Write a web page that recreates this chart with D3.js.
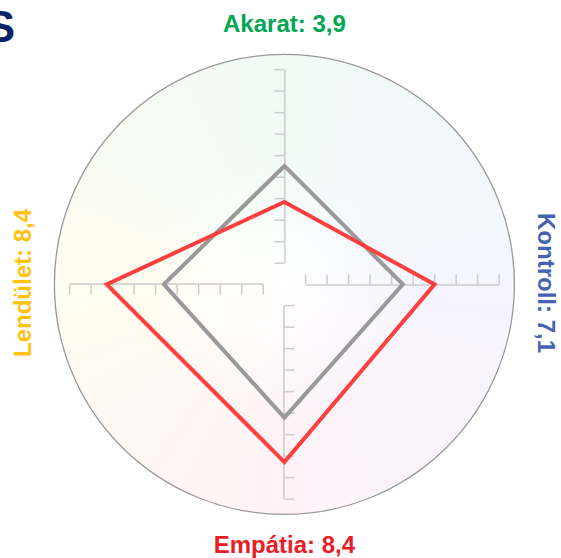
<!DOCTYPE html>
<html>
<head>
<meta charset="utf-8">
<script src="https://cdn.jsdelivr.net/npm/d3@7"></script>
<style>
  body { margin: 0; background: #fff; }
  svg { display: block; font-family: "Liberation Sans", Arial, sans-serif; }
</style>
</head>
<body>
<div id="chart"></div>
<script>
// dimensions, clockwise from top
const dims = ["Akarat", "Kontroll", "Empátia", "Lendület"];
const dimColors = ["#00a651", "#4563b0", "#ed1c24", "#ffc20e"];
const labelValues = ["3,9", "7,1", "8,4", "8,4"];
const redValues = [3.9, 7.1, 8.4, 8.4];
const grayValues = [5.6, 5.6, 6.3, 5.7];
const tickValues = [1, 2, 3, 4, 5, 6, 7, 8, 9, 10];

const width = 561, height = 558;
const cx = 284.4, cy = 284.4, outerR = 230;

const svg = d3.select("#chart").append("svg")
  .attr("width", width)
  .attr("height", height);

const defs = svg.append("defs");

// fade the tint towards the middle
const rg = defs.append("radialGradient").attr("id", "fade");
rg.append("stop").attr("offset", "0%").attr("stop-color", "#000");
rg.append("stop").attr("offset", "12%").attr("stop-color", "#444");
rg.append("stop").attr("offset", "60%").attr("stop-color", "#fff");
defs.append("mask").attr("id", "fadeMask")
  .append("circle").attr("cx", 0).attr("cy", 0).attr("r", outerR)
  .attr("fill", "url(#fade)");

const g = svg.append("g").attr("transform", `translate(${cx},${cy})`);

// conic tint made of thin opaque wedges (pre-mixed with white)
const tintStops = ["#00c060", "#5050ff", "#ff3080", "#ffd000"];
const colorAt = d3.scaleLinear()
  .domain([0, 90, 180, 270, 360])
  .range([tintStops[0], tintStops[1], tintStops[2], tintStops[3], tintStops[0]])
  .interpolate(d3.interpolateRgb);
const tint = a => d3.interpolateRgb("#ffffff", colorAt(a))(0.06);
const wedge = d3.arc().innerRadius(0).outerRadius(outerR);
const steps = d3.range(0, 360, 2);
g.append("g").attr("mask", "url(#fadeMask)")
  .selectAll("path").data(steps).enter().append("path")
  .attr("d", a => wedge({startAngle: (a - 1.6) * Math.PI / 180, endAngle: (a + 1.6) * Math.PI / 180}))
  .attr("fill", a => tint(a));

g.append("circle")
  .attr("r", outerR)
  .attr("fill", "none")
  .attr("stroke", "#999")
  .attr("stroke-width", 1.3);

// axes: one axis pointing up, rotated for each dimension
const axisScale = d3.scaleLinear().domain([1, 10]).range([-21.7, -215.3]);
const axis = d3.axisLeft(axisScale)
  .tickValues(tickValues)
  .tickSize(10)
  .tickSizeOuter(0)
  .tickFormat("");

dims.forEach((d, i) => {
  const ag = g.append("g")
    .attr("transform", `rotate(${i * 90})`)
    .call(axis);
  ag.selectAll("path, line").attr("stroke", "#cccccc").attr("stroke-width", 1.5);
});

// data polygons
const r = d3.scaleLinear().domain([0, 10]).range([0, 211.5]);
const radar = d3.lineRadial()
  .angle((d, i) => i * Math.PI / 2)
  .radius(d => r(d))
  .curve(d3.curveLinearClosed);

g.append("path")
  .attr("d", radar(grayValues))
  .attr("fill", "none")
  .attr("stroke", "#999999")
  .attr("stroke-width", 4)
  .attr("stroke-linejoin", "miter");

g.append("path")
  .attr("d", radar(redValues))
  .attr("fill", "none")
  .attr("stroke", "#ff4040")
  .attr("stroke-width", 4)
  .attr("stroke-linejoin", "miter");

// labels
const labelPos = [
  {x: 284.4, y: 31.5, rot: 0},
  {x: 538, y: 283, rot: 90},
  {x: 284.4, y: 553, rot: 0},
  {x: 31, y: 283, rot: -90}
];
svg.selectAll("text.dim").data(dims).enter().append("text")
  .attr("class", "dim")
  .attr("transform", (d, i) => `translate(${labelPos[i].x},${labelPos[i].y}) rotate(${labelPos[i].rot})`)
  .attr("text-anchor", "middle")
  .attr("font-size", 24)
  .attr("font-weight", "bold")
  .attr("fill", (d, i) => dimColors[i])
  .text((d, i) => `${d}: ${labelValues[i]}`);

// title, cut off at the left edge as in the source
svg.append("text")
  .attr("x", 15)
  .attr("y", 42)
  .attr("text-anchor", "end")
  .attr("font-size", 44)
  .attr("font-weight", "bold")
  .attr("fill", "#0b2265")
  .text("S");
</script>
</body>
</html>
